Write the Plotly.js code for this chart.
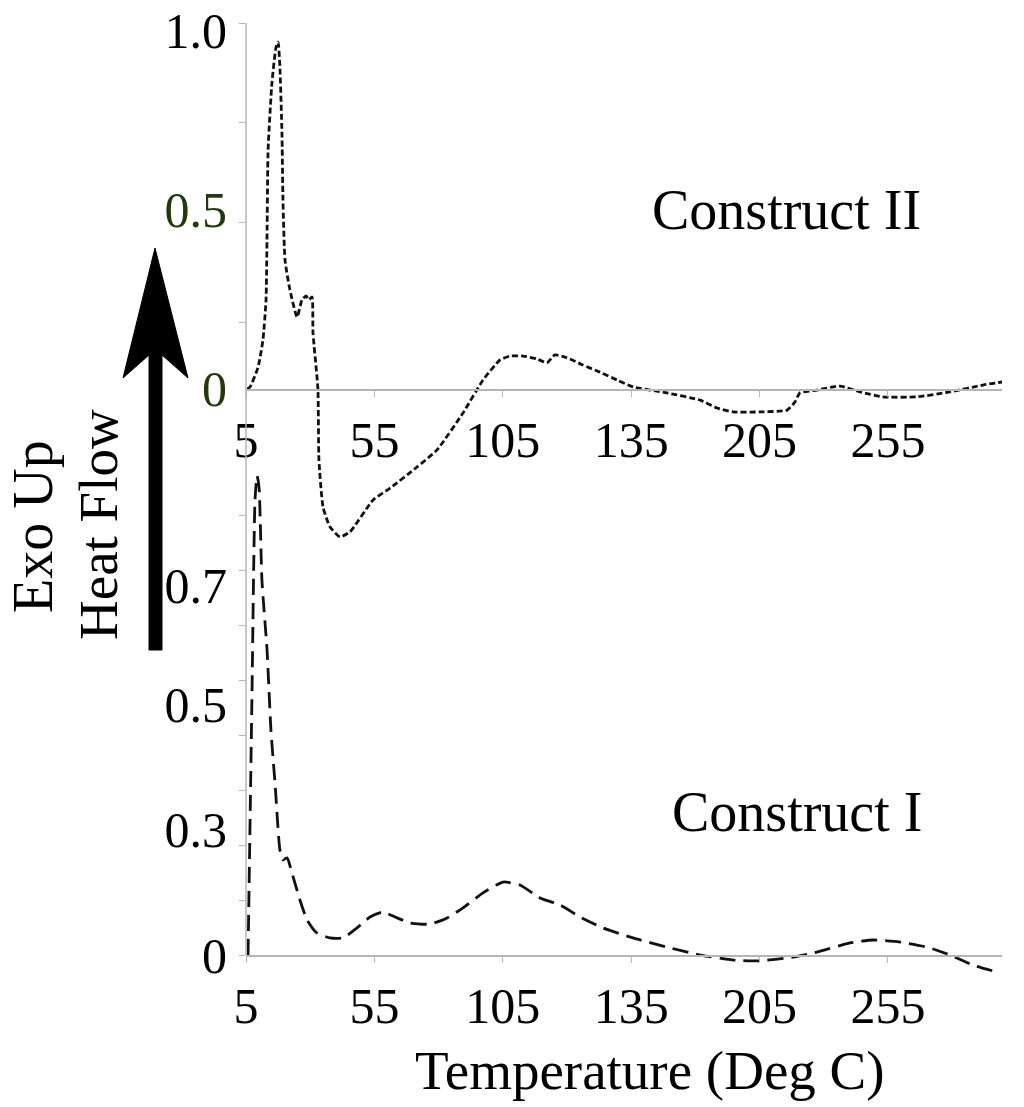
<!DOCTYPE html>
<html>
<head>
<meta charset="utf-8">
<script src="https://cdn.plot.ly/plotly-3.0.1.min.js"></script>
<style>
  html, body { margin: 0; padding: 0; background: #fff; }
  #chart { width: 1024px; height: 1107px; }
</style>
</head>
<body>
<div id="chart"></div>
<script>
// DSC traces (x in deg C, y in relative heat flow units)
const TEMP_II = [5.5, 6.6, 9.7, 11.6, 12.8, 13.2, 13.6, 15.1, 16.7, 17.5,
  18.2, 19.0, 19.4, 20.2, 22.1, 24.9, 26.8, 28.4, 29.5, 30.7,
  31.1, 33.0, 33.4, 35.0, 37.7, 41.6, 45.5, 54.5, 61.1, 71.6,
  79.4, 89.5, 97.3, 103.9, 107.8, 112.9, 118.3, 122.2, 125.3, 130.0,
  136.2, 142.8, 149.5, 155.7, 168.9, 181.8, 188.4, 194.6, 205.2, 215.7,
  218.8, 220.7, 227.3, 236.3, 244.1, 253.0, 266.3, 279.1, 292.0, 299.8];
const FLOW_II = [0, 0.006, 0.061, 0.137, 0.249, 0.436, 0.668, 0.855, 0.955, 0.969,
  0.899, 0.715, 0.528, 0.360, 0.277, 0.201, 0.249, 0.260, 0.249, 0.257,
  0.156, 0.0, -0.198, -0.330, -0.385, -0.413, -0.399, -0.310, -0.277, -0.218,
  -0.170, -0.067, 0.025, 0.081, 0.092, 0.092, 0.084, 0.073, 0.095, 0.087,
  0.067, 0.047, 0.025, 0.006, -0.011, -0.031, -0.053, -0.064, -0.064, -0.059,
  -0.036, -0.011, -0.003, 0.008, -0.008, -0.022, -0.022, -0.008, 0.011, 0.020];

const TEMP_I = [5.8, 7.3, 8.5, 9.3, 10.1, 11.2, 13.2, 14.7, 16.3, 18.2, 19.4, 21.0, 22.9,
  26.0, 28.8, 32.6, 37.7, 42.8, 48.2, 53.3, 58.3, 63.8, 68.9,
  76.7, 83.3, 89.5, 97.3, 105.1, 111.7, 119.5, 127.3, 135.1, 144.0,
  155.7, 168.9, 181.8, 194.6, 205.2, 218.0, 227.3, 240.2, 249.2, 259.7,
  270.2, 279.1, 288.1, 298.6];
const FLOW_I = [0, 0.612, 1.091, 1.149, 1.120, 0.899, 0.731, 0.540, 0.412, 0.252, 0.228, 0.233, 0.197,
  0.132, 0.084, 0.053, 0.041, 0.041, 0.065, 0.091, 0.103, 0.089, 0.077,
  0.074, 0.089, 0.113, 0.149, 0.175, 0.168, 0.137, 0.120, 0.091, 0.065,
  0.041, 0.019, 0.0, -0.012, -0.014, -0.005, 0.007, 0.029, 0.036, 0.031,
  0.019, 0.0, -0.024, -0.043];

// axis labels as printed on the figure
const X_TICKVALS = [5, 55, 105, 155, 205, 255];
const X_TICKTEXT = ['5', '55', '105', '135', '205', '255'];
const Y_TICKVALS = [0, 0.5, 1.0];
const Y_TICKTEXT = ['0', '0.5', '1.0'];
const Y_TICKCOLORS = ['#1f3a0c', '#1f3a0c', '#000'];
const Y2_TICKVALS = [0, 0.3, 0.6, 0.886];
const Y2_TICKTEXT = ['0', '0.3', '0.5', '0.7'];

const SERIF = 'Liberation Serif, Times New Roman, serif';
const GRAY = '#b5b5b5';

// page geometry (px) -> paper coords
const L = 246, R = 1002, T = 23, B = 985;
const px = x => (x - L) / (R - L);
const py = y => (B - y) / (B - T);

const common = {
  type: 'scatter',
  mode: 'lines',
  hoverinfo: 'x+y',
  showlegend: false,
};
const traces = [
  Object.assign({}, common, {
    x: TEMP_II, y: FLOW_II, xaxis: 'x', yaxis: 'y', name: 'Construct II',
    line: {color: '#111', width: 2.8, dash: '6px,3px', shape: 'spline', smoothing: 0.5},
  }),
  Object.assign({}, common, {
    x: TEMP_I, y: FLOW_I, xaxis: 'x2', yaxis: 'y2', name: 'Construct I',
    line: {color: '#111', width: 2.8, dash: '16px,8px', shape: 'spline', smoothing: 0.5},
  }),
];

const xAxisBase = {
  range: [5, 299.4],
  tickmode: 'array',
  tickvals: X_TICKVALS,
  ticktext: X_TICKTEXT,
  ticks: 'outside',
  ticklen: 6,
  tickcolor: GRAY,
  showline: true,
  linecolor: GRAY,
  linewidth: 1.5,
  showgrid: false,
  zeroline: false,
  tickfont: {family: SERIF, size: 50, color: '#000'},
  anchor: 'free',
};

const arrowPath = [
  [155, 248], [188, 378], [162, 355], [162, 650],
  [149, 650], [149, 355], [123, 378],
].map((p, i) => (i ? 'L' : 'M') + px(p[0]) + ',' + py(p[1])).join(' ') + ' Z';

function label(text, x, y, size, angle) {
  return {text: text, xref: 'paper', yref: 'paper', x: px(x), y: py(y),
    xanchor: 'center', yanchor: 'middle', textangle: angle || 0,
    showarrow: false, font: {family: SERIF, size: size, color: '#000'}};
}

const layout = {
  width: 1024,
  height: 1107,
  margin: {l: L, r: 1024 - R, t: T, b: 1107 - B},
  paper_bgcolor: '#fff',
  plot_bgcolor: 'rgba(0,0,0,0)',
  font: {family: SERIF, color: '#000'},
  xaxis: Object.assign({}, xAxisBase, {position: py(389)}),
  xaxis2: Object.assign({}, xAxisBase, {position: py(955)}),
  yaxis: {
    domain: [py(560), 1],
    range: [-0.4777, 1.0223],
    anchor: 'x',
    tickmode: 'array',
    tickvals: Y_TICKVALS,
    ticktext: Y_TICKTEXT.map((t, i) => '<span style="color:' + Y_TICKCOLORS[i] + '">' + t + '</span>'),
    ticks: '',
    ticklabelstandoff: 18,
    minor: {tickmode: 'array', tickvals: [0.1844, 0.4637, 0.743, 1.0223],
      ticks: 'outside', ticklen: 6, tickcolor: GRAY, showgrid: false},
    showline: false,
    showgrid: false,
    zeroline: false,
    tickfont: {family: SERIF, size: 50, color: '#000'},
  },
  yaxis2: {
    domain: [0, py(462)],
    range: [-0.0719, 1.1823],
    anchor: 'x2',
    tickmode: 'array',
    tickvals: Y2_TICKVALS,
    ticktext: Y2_TICKTEXT,
    ticks: '',
    ticklabelstandoff: 18,
    minor: {tickmode: 'linear', tick0: 0, dtick: 0.1319,
      ticks: 'outside', ticklen: 6, tickcolor: GRAY, showgrid: false},
    showline: false,
    showgrid: false,
    zeroline: false,
    tickfont: {family: SERIF, size: 50, color: '#000'},
  },
  shapes: [
    // shared vertical axis line
    {type: 'line', xref: 'paper', yref: 'paper', x0: 0, x1: 0, y0: py(955), y1: 1,
      line: {color: GRAY, width: 1.5}},
    // "Exo Up" arrow
    {type: 'path', xref: 'paper', yref: 'paper', path: arrowPath,
      fillcolor: '#000', line: {color: '#000', width: 1}},
  ],
  annotations: [
    label('Construct II', 786, 210, 56),
    label('Construct I', 797, 812, 56),
    label('Temperature (Deg C)', 650, 1070, 55),
    label('Exo Up', 33, 527, 56, -90),
    label('Heat Flow', 98, 525, 55, -90),
  ],
};

Plotly.newPlot('chart', traces, layout, {displayModeBar: false, staticPlot: true});
</script>
</body>
</html>
